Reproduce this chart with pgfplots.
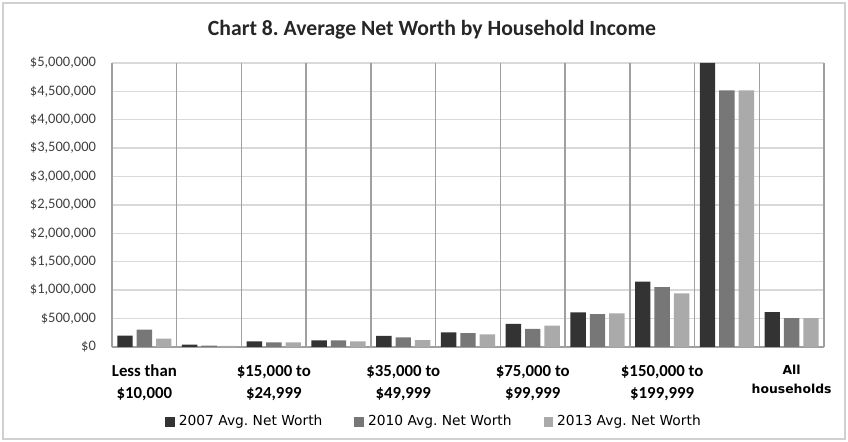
\documentclass[border=0pt]{standalone}
\usepackage{fontspec}
\setmainfont{Carlito}
\newfontfamily\dejavu{DejaVu Sans}
\usepackage{pgfplots}
\pgfplotsset{compat=1.18}
\frenchspacing
\definecolor{c07}{HTML}{333333}
\definecolor{c10}{HTML}{777777}
\definecolor{c13}{HTML}{AAAAAA}
\definecolor{gridh}{HTML}{D9D9D9}
\definecolor{gridv}{HTML}{A0A0A0}
\definecolor{tickc}{HTML}{404040}
\definecolor{framec}{HTML}{D0D0D0}
\newcommand\hh[1]{{\dejavu\fontsize{6.2}{7.5}\selectfont\bfseries #1}}

\begin{document}
\begin{tikzpicture}
% page box: the chart area around the plot
\path[use as bounding box] (-56pt,-47.5pt) rectangle (368pt,173.5pt);
\draw[framec, line width=0.8pt] (-54.5pt,-46pt) rectangle (366.5pt,172pt);

\begin{axis}[
  at={(0pt,0pt)}, anchor=south west,
  scale only axis, width=356pt, height=142pt,
  ybar=2pt, bar width=7.7pt,
  xmin=-0.5, xmax=10.5, ymin=0, ymax=5000000,
  scaled y ticks=false,
  axis x line*=bottom, axis y line*=left,
  x axis line style={draw=gridv, line width=0.6pt, -},
  y axis line style={draw=none},
  major tick length=0pt,
  ymajorgrids, grid style={draw=gridh, line width=0.7pt},
  ytick={0,500000,1000000,1500000,2000000,2500000,3000000,3500000,4000000,4500000,5000000},
  yticklabels={{\$0},{\$500,000},{\$1,000,000},{\$1,500,000},{\$2,000,000},{\$2,500,000},{\$3,000,000},{\$3,500,000},{\$4,000,000},{\$4,500,000},{\$5,000,000}},
  yticklabel style={font=\fontsize{7.25}{9}\selectfont, text=tickc, xshift=-4.5pt},
  xtick={0,2,4,6,8,10},
  xticklabels={{Less than\\\$10,000}, {\$15,000 to\\\$24,999}, {\$35,000 to\\\$49,999}, {\$75,000 to\\\$99,999}, {\$150,000 to\\\$199,999}, {\hh{All}\\[-1.5pt]\hh{households}}},
  xticklabel style={font=\fontsize{8.4}{11}\selectfont\bfseries, align=center, yshift=-5.5pt},
  extra x ticks={-0.5,0.5,1.5,2.5,3.5,4.5,5.5,6.5,7.5,8.5,9.5,10.5},
  extra x tick labels={},
  extra x tick style={grid=major, major grid style={draw=gridv, line width=0.7pt}},
  legend columns=3,
  legend style={at={(rel axis cs:0.4537,-0.265)}, anchor=center, draw=none, fill=none,
    font=\dejavu\fontsize{6.9}{8}\selectfont,
    /tikz/every even column/.append style={column sep=14pt}},
  legend image code/.code={\fill[#1] (0pt,-2.4pt) rectangle (4.8pt,2.4pt);},
  clip=true,
]
\addplot[fill=c07, draw=none] coordinates {
  (0,200000) (1,40000) (2,100000) (3,118000) (4,194000) (5,259000)
  (6,405000) (7,610000) (8,1150000) (9,5000000) (10,616000)};
\addplot[fill=c10, draw=none] coordinates {
  (0,305000) (1,23000) (2,83000) (3,118000) (4,170000) (5,246000)
  (6,317000) (7,580000) (8,1056000) (9,4520000) (10,510000)};
\addplot[fill=c13, draw=none] coordinates {
  (0,146000) (1,20000) (2,80000) (3,100000) (4,123000) (5,223000)
  (6,376000) (7,590000) (8,945000) (9,4520000) (10,510000)};
\legend{2007 Avg. Net Worth, 2010 Avg. Net Worth, 2013 Avg. Net Worth}
\end{axis}

\node[font=\fontsize{10.85}{13}\selectfont\bfseries, text=black!85] at (160pt,158.5pt)
  {Chart 8. Average Net Worth by Household Income};
\end{tikzpicture}
\end{document}
